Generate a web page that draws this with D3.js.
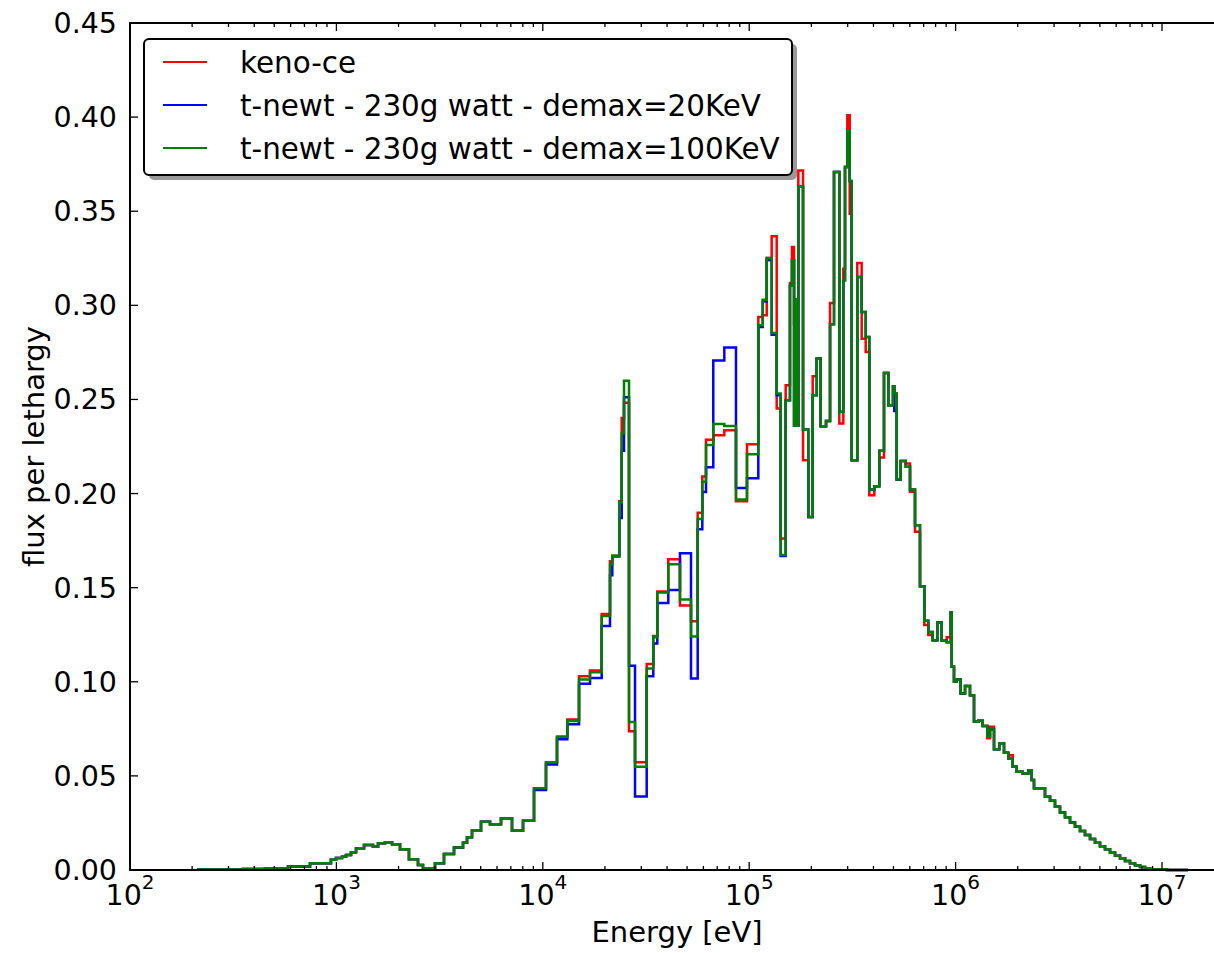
<!DOCTYPE html>
<html>
<head>
<meta charset="utf-8">
<script src="https://cdn.jsdelivr.net/npm/d3@7"></script>
<style>
body { margin:0; background:#fff; }
text { font-family:"DejaVu Sans", sans-serif; fill:#000; }
</style>
</head>
<body>
<svg></svg>
<script>
//bin edges of the group structure, eV
var energyEdges = [211,353,451,583,745,941,996,1065,1113,1177,1245,1361,1504,1591,1720,1860,2033,2247,2485,2628,
  3004,3321,3714,4106,4294,4539,5019,5549,6274,7093,8020,9066,10363,11718,13146,14979,16935,19293,21165,21713,
  23479,24119,24743,26163,27976,31872,34303,35869,40553,46196,52240,56299,59266,61763,66985,75752,86298,97567,110700,116300,
  121600,128500,135900,142100,150200,157600,161200,164900,167600,170500,173000,182300,193400,203100,212300,222000,235600,246400,257600,273300,
  285800,291200,298800,306900,313800,333900,350800,366800,381900,403800,426900,449900,472000,497400,504700,518300,542000,573100,601300,635800,
  672200,705400,737500,774500,815400,856300,905600,947000,957400,982200,1012000,1058000,1111000,1174000,1228000,1288000,1353000,1424000,1468000,1535000,
  1628000,1716000,1800000,1891000,1977000,2114000,2250000,2337000,2398000,2711000,2867000,3031000,3205000,3389000,3584000,3789000,4007000,4236000,4480000,4737000,
  5008000,5296000,5600000,5921000,6261000,6620000,6998000,7401000,7825000,8274000,8749000,9459000,10570000,13370000];

//flux per lethargy in each bin
var kenoFlux = [0.0002,0.0005,0.0009,0.0018,0.0036,0.0055,0.0064,0.0071,0.0080,0.0094,0.0115,0.0133,0.0124,0.0142,0.0147,0.0137,0.0110,0.0057,0.0027,0.0009,
  0.0036,0.0085,0.0120,0.0145,0.0174,0.0209,0.0256,0.0243,0.0275,0.0209,0.0262,0.0434,0.0572,0.0708,0.0800,0.1030,0.1060,0.1360,0.1640,0.1670,
  0.1959,0.2401,0.2483,0.0737,0.0573,0.1094,0.1243,0.1480,0.1651,0.1405,0.1322,0.1898,0.2090,0.2286,0.2310,0.2337,0.1959,0.2262,0.2938,0.2947,
  0.3251,0.3367,0.2452,0.1761,0.2575,0.3119,0.3310,0.2900,0.3030,0.2360,0.3717,0.2177,0.1876,0.2623,0.2717,0.2358,0.2386,0.3013,0.3708,0.2372,
  0.3195,0.3735,0.4010,0.3487,0.2177,0.3225,0.2823,0.2752,0.1991,0.2039,0.2191,0.2641,0.2469,0.2570,0.2531,0.2075,0.2173,0.2160,0.2010,0.1797,
  0.1508,0.1301,0.1248,0.1220,0.1315,0.1218,0.1236,0.1370,0.1080,0.1000,0.1012,0.0938,0.0977,0.0929,0.0787,0.0793,0.0765,0.0700,0.0761,0.0641,
  0.0673,0.0623,0.0610,0.0549,0.0522,0.0513,0.0530,0.0478,0.0434,0.0389,0.0368,0.0336,0.0306,0.0280,0.0253,0.0230,0.0207,0.0186,0.0165,0.0145,
  0.0126,0.0110,0.0092,0.0076,0.0062,0.0048,0.0036,0.0025,0.0016,0.0009,0.0004,0.0002,0.00005];

var newt20Flux = [0.0002,0.0005,0.0009,0.0018,0.0036,0.0055,0.0064,0.0071,0.0080,0.0094,0.0115,0.0133,0.0124,0.0142,0.0147,0.0137,0.0110,0.0057,0.0027,0.0009,
  0.0036,0.0085,0.0120,0.0145,0.0174,0.0209,0.0256,0.0243,0.0275,0.0209,0.0262,0.0425,0.0560,0.0695,0.0774,0.0990,0.1020,0.1296,0.1566,0.1665,
  0.1870,0.2227,0.2511,0.1085,0.0390,0.1030,0.1203,0.1419,0.1487,0.1683,0.1017,0.1811,0.2008,0.2140,0.2707,0.2776,0.2030,0.2081,0.2885,0.3021,
  0.3239,0.2844,0.2522,0.1668,0.2496,0.3106,0.3239,0.2360,0.3030,0.2360,0.3632,0.2340,0.1876,0.2522,0.2717,0.2358,0.2386,0.2899,0.3708,0.2434,
  0.3133,0.3735,0.3930,0.3660,0.2177,0.3150,0.2965,0.2832,0.2021,0.2039,0.2227,0.2641,0.2469,0.2570,0.2439,0.2075,0.2173,0.2142,0.2021,0.1832,
  0.1508,0.1324,0.1265,0.1220,0.1315,0.1218,0.1210,0.1370,0.1080,0.1000,0.1012,0.0938,0.0977,0.0929,0.0787,0.0793,0.0765,0.0708,0.0747,0.0641,
  0.0673,0.0623,0.0593,0.0549,0.0522,0.0513,0.0530,0.0478,0.0434,0.0389,0.0368,0.0336,0.0306,0.0280,0.0253,0.0230,0.0207,0.0186,0.0165,0.0145,
  0.0126,0.0110,0.0092,0.0076,0.0062,0.0048,0.0036,0.0025,0.0016,0.0009,0.0004,0.0002,0.00005];

var newt100Flux = [0.0002,0.0005,0.0009,0.0018,0.0036,0.0055,0.0064,0.0071,0.0080,0.0094,0.0115,0.0133,0.0124,0.0142,0.0147,0.0137,0.0110,0.0057,0.0027,0.0009,
  0.0036,0.0085,0.0120,0.0145,0.0174,0.0209,0.0256,0.0243,0.0275,0.0209,0.0262,0.0434,0.0572,0.0708,0.0792,0.1012,0.1050,0.1350,0.1623,0.1670,
  0.1953,0.2319,0.2599,0.0786,0.0549,0.1071,0.1236,0.1474,0.1624,0.1437,0.1240,0.1865,0.2063,0.2258,0.2370,0.2359,0.1968,0.2209,0.2894,0.3030,
  0.3251,0.2853,0.2531,0.1673,0.2496,0.3106,0.3239,0.2360,0.3030,0.2360,0.3632,0.2340,0.1876,0.2522,0.2717,0.2358,0.2386,0.2899,0.3708,0.2434,
  0.3133,0.3735,0.3930,0.3660,0.2177,0.3150,0.2965,0.2832,0.2021,0.2039,0.2227,0.2641,0.2469,0.2570,0.2531,0.2075,0.2173,0.2142,0.2021,0.1832,
  0.1508,0.1324,0.1265,0.1220,0.1315,0.1218,0.1210,0.1370,0.1080,0.1000,0.1012,0.0938,0.0977,0.0929,0.0787,0.0793,0.0765,0.0708,0.0747,0.0641,
  0.0673,0.0623,0.0593,0.0549,0.0522,0.0513,0.0530,0.0478,0.0434,0.0389,0.0368,0.0336,0.0306,0.0280,0.0253,0.0230,0.0207,0.0186,0.0165,0.0145,
  0.0126,0.0110,0.0092,0.0076,0.0062,0.0048,0.0036,0.0025,0.0016,0.0009,0.0004,0.0002,0.00005];

var seriesNames = ["keno-ce", "t-newt - 230g watt - demax=20KeV", "t-newt - 230g watt - demax=100KeV"];
var seriesColors = ["#ff0000", "#0000ff", "#008000"];
var yTicks = [0.00,0.05,0.10,0.15,0.20,0.25,0.30,0.35,0.40,0.45];
var xDecades = [2,3,4,5,6,7];
var xDomain = [1e2, 2e7];
var yDomain = [0, 0.45];


//turns a flux array into step points (value held until the next edge)
var stepPoints = function(flux)
{
    return energyEdges.map(function(e,i)
    {
        return [e, flux[Math.min(i, flux.length-1)]];
    });
}

var drawLines = function(target,xScale,yScale)
{
    var line = d3.line()
        .x(function(d){ return xScale(d[0]); })
        .y(function(d){ return yScale(d[1]); })
        .curve(d3.curveStepAfter);

    var all = [kenoFlux, newt20Flux, newt100Flux];
    target.selectAll("path.series")
        .data(all)
        .enter()
        .append("path")
        .attr("class","series")
        .attr("d", function(d){ return line(stepPoints(d)); })
        .attr("fill","none")
        .attr("stroke", function(d,i){ return seriesColors[i]; })
        .attr("stroke-width",2.5)
        .attr("stroke-linejoin","miter");
}

var drawAxes = function(target,xScale,yScale)
{
    var x0 = xScale.range()[0], x1 = xScale.range()[1];
    var y0 = yScale.range()[0], y1 = yScale.range()[1];

    //ticks, all pointing in (classic style)
    var xt = xScale.ticks().filter(function(t){ return t>=xDomain[0] && t<=xDomain[1]; });
    xt.forEach(function(t)
    {
        var major = Math.abs(Math.log10(t) - Math.round(Math.log10(t))) < 1e-9;
        var len = major ? 8 : 4;
        var px = xScale(t);
        target.append("line").attr("x1",px).attr("x2",px).attr("y1",y0).attr("y2",y0-len)
            .attr("stroke","#000").attr("stroke-width",1.3);
        target.append("line").attr("x1",px).attr("x2",px).attr("y1",y1).attr("y2",y1+len)
            .attr("stroke","#000").attr("stroke-width",1.3);
    });

    yTicks.forEach(function(t)
    {
        var py = yScale(t);
        target.append("line").attr("x1",x0).attr("x2",x0+8).attr("y1",py).attr("y2",py)
            .attr("stroke","#000").attr("stroke-width",1.3);
        target.append("line").attr("x1",x1).attr("x2",x1-8).attr("y1",py).attr("y2",py)
            .attr("stroke","#000").attr("stroke-width",1.3);
        target.append("text")
            .attr("x",x0-13).attr("y",py+10)
            .attr("text-anchor","end")
            .attr("font-size",28.5)
            .text(t.toFixed(2));
    });

    xDecades.forEach(function(k)
    {
        var txt = target.append("text")
            .attr("x",xScale(Math.pow(10,k)))
            .attr("y",y0+35)
            .attr("text-anchor","middle")
            .attr("font-size",28.5);
        txt.append("tspan").text("10");
        txt.append("tspan").attr("font-size",20).attr("dy",-16).text(k);
    });

    //frame
    target.append("rect")
        .attr("x",x0).attr("y",y1)
        .attr("width",x1-x0).attr("height",y0-y1)
        .attr("fill","none").attr("stroke","#000").attr("stroke-width",2);
}

var drawLabels = function(target,xScale,yScale)
{
    var x0 = xScale.range()[0], x1 = xScale.range()[1];
    target.append("text")
        .attr("x",(x0+x1)/2).attr("y",942)
        .attr("text-anchor","middle")
        .attr("font-size",29)
        .text("Energy [eV]");

    var yMid = (yScale.range()[0]+yScale.range()[1])/2;
    target.append("text")
        .attr("transform","translate(44,"+yMid+") rotate(-90)")
        .attr("text-anchor","middle")
        .attr("font-size",29)
        .text("flux per lethargy");
}

var drawLegend = function(target)
{
    var box = {x:144,y:39,w:648,h:136};
    target.append("rect")
        .attr("x",box.x+5).attr("y",box.y+5).attr("width",box.w).attr("height",box.h)
        .attr("rx",5).attr("fill","#999");
    target.append("rect")
        .attr("x",box.x).attr("y",box.y).attr("width",box.w).attr("height",box.h)
        .attr("rx",5).attr("fill","#fff").attr("stroke","#000").attr("stroke-width",2);

    var rows = target.selectAll("g.entry")
        .data(seriesNames)
        .enter()
        .append("g")
        .attr("class","entry")
        .attr("transform",function(d,i){ return "translate(0,"+(62+i*43)+")"; });
    rows.append("line")
        .attr("x1",163).attr("x2",207)
        .attr("stroke",function(d,i){ return seriesColors[i]; })
        .attr("stroke-width",2);
    rows.append("text")
        .attr("x",240).attr("y",10.5)
        .attr("font-size",29.4)
        .text(function(d){ return d; });
}

var initGraph = function()
{
    var screen = {width:1214,height:953};

    var svg = d3.select("svg")
        .attr("width",screen.width)
        .attr("height",screen.height);
    svg.append("rect").attr("width",screen.width).attr("height",screen.height).attr("fill","#fff");

    //206.4 px per decade, axis runs past the right edge of the picture
    var xScale = d3.scaleLog()
        .domain(xDomain)
        .range([130, 130 + 206.4*Math.log10(xDomain[1]/xDomain[0])]);
    var yScale = d3.scaleLinear()
        .domain(yDomain)
        .range([870, 23]);

    var target = svg.append("g");
    drawLines(target,xScale,yScale);
    drawAxes(target,xScale,yScale);
    drawLabels(target,xScale,yScale);
    drawLegend(target);
}

initGraph();
</script>
</body>
</html>
